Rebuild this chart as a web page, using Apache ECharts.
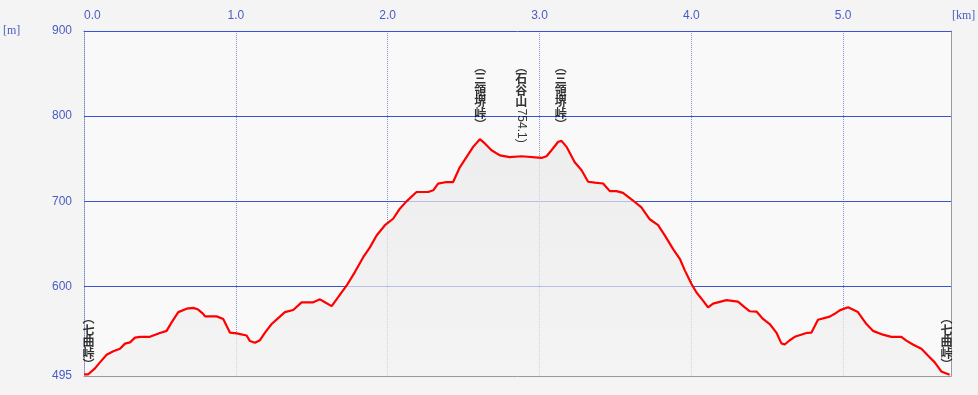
<!DOCTYPE html>
<html><head><meta charset="utf-8">
<script src="https://cdn.jsdelivr.net/npm/echarts@6/dist/echarts.min.js"></script>
<style>html,body{margin:0;padding:0;background:#f4f4f4}#c{width:978px;height:395px}</style>
</head><body><div id="c"></div>
<script>
// ---- data ----
const distanceKm = [0.000,0.028,0.072,0.105,0.149,0.193,0.237,0.270,0.303,0.336,0.369,0.434,0.500,0.544,0.577,0.621,0.676,0.720,0.752,0.785,0.797,0.874,0.917,0.939,0.961,1.005,1.071,1.093,1.126,1.159,1.192,1.236,1.279,1.323,1.378,1.433,1.510,1.554,1.587,1.631,1.674,1.729,1.784,1.839,1.883,1.927,1.982,2.036,2.080,2.124,2.190,2.267,2.300,2.332,2.388,2.431,2.475,2.519,2.563,2.607,2.640,2.684,2.739,2.804,2.881,3.013,3.046,3.079,3.123,3.145,3.178,3.232,3.277,3.320,3.364,3.419,3.463,3.507,3.550,3.616,3.671,3.726,3.781,3.825,3.880,3.924,3.957,4.001,4.034,4.077,4.110,4.143,4.187,4.231,4.307,4.352,4.385,4.429,4.472,4.516,4.560,4.593,4.615,4.648,4.681,4.758,4.791,4.834,4.911,4.944,4.977,5.032,5.097,5.153,5.196,5.262,5.317,5.383,5.416,5.459,5.515,5.558,5.603,5.646,5.701];
const elevationM = [497,497,504,511,520,524,527,533,534.5,540,541,541,545.5,548,558,570,574,575,573,568,565,565,562,554,546,545,542.5,536,534,537,546,556,563,570,572.5,581.5,581.5,585,581.5,577,587.5,601,617,634.5,646,660,672,679.6,691.4,700,711,711,713,720.8,722.7,722.7,740,752,764,773,768,760,754,752,753,751,753,760,770,771,764,746,736.5,723,722,721,712,712,710,701,693,679,672,660,644,632.6,619,603,593,583.5,575.6,580,582,584,582.4,575.6,571,570.6,562,556,546,533.3,532,537,541,545.5,546,561,564.7,568,572,575.6,570,556,548,543.5,541,541,536.5,532,527,519,511,500.4,496.5];
const xTickLabels = [0,1,2,3,4,5];
const yTickLabels = [495,600,700,800,900];
const gridLinesM = [600,700,800];
const annoKm = [0.03,2.61,2.88,3.14,5.68];
const annoTopM = [569,864,864,864,569];
const annoText = ['七曲峠','三領堺峠','石谷山754.1','三領堺峠','七曲峠'];
const unitX = '[km]', unitY = '[m]';
const X_MAX = 5.71, Y_MIN = 495, Y_MAX = 900;

// ---- build ----
const lineData = distanceKm.map((d,i)=>[d, elevationM[i]]);
const annoData = [];
const LH = 11.5;
annoText.forEach((t,i)=>{
  const m = t.match(/^([^\x00-\x7f]+)([\x00-\x7f]*)$/);
  const cjk = m[1], asc = m[2];
  let s = '︵\n' + cjk.split('').join('\n');
  if (!asc) s += '\n︶';
  annoData.push({value:[annoKm[i], annoTopM[i]], label:{formatter:s}});
  if (asc) {
    annoData.push({value:[annoKm[i], annoTopM[i]], label:{
      formatter: asc + ')', rotate:-90, align:'left', verticalAlign:'middle', fontWeight:'normal',
      distance: LH*(1+cjk.length)+1, fontFamily:'Liberation Sans', fontSize:12, lineHeight:14}});
  }
});

const chart = echarts.init(document.getElementById('c'), null, {renderer:'canvas'});
const blue = '#3c52d6';
chart.setOption({
  animation:false,
  backgroundColor:'#f4f4f4',
  grid:{left:84, top:31, right:27, bottom:19, show:true, backgroundColor:'#f9f9f9', borderWidth:0},
  xAxis:[{
    type:'value', position:'top', min:0, max:X_MAX, interval:1,
    axisLine:{onZero:false, lineStyle:{color:blue, width:1}},
    axisTick:{show:false},
    axisLabel:{color:'#4a5cc4', fontFamily:'Liberation Sans', fontSize:12, margin:9,
      customValues:xTickLabels, alignMinLabel:'left', formatter:v=>v.toFixed(1)},
    splitLine:{show:true, lineStyle:{type:'dotted', color:'#8391cc', width:1}}
  },{
    type:'value', position:'bottom', min:0, max:X_MAX,
    axisLine:{onZero:false, lineStyle:{color:'#9a9a9a', width:1}},
    axisTick:{show:false}, axisLabel:{show:false}, splitLine:{show:false}
  }],
  yAxis:[{
    type:'value', min:Y_MIN, max:Y_MAX,
    axisLine:{show:true, onZero:false, lineStyle:{color:'#7d8cc8', type:'dotted', width:1}},
    axisTick:{show:false},
    axisLabel:{color:'#4a5cc4', fontFamily:'Liberation Sans', fontSize:12, margin:12, customValues:yTickLabels},
    splitLine:{show:false}
  },{
    type:'value', position:'right', min:Y_MIN, max:Y_MAX,
    axisLine:{show:true, onZero:false, lineStyle:{color:'#9a9a9a', width:1}},
    axisTick:{show:false}, axisLabel:{show:false}, splitLine:{show:false}
  }],
  graphic:[
    {type:'text', left:3, top:25, style:{text:unitY, fill:'#4a5cc4', font:'12px "Liberation Serif"'}},
    {type:'text', left:952, top:10, style:{text:unitX, fill:'#4a5cc4', font:'12px "Liberation Serif"'}}
  ],
  series:[{
    type:'line', data:lineData, showSymbol:false, z:3,
    lineStyle:{color:'#ff0000', width:2.2},
    areaStyle:{origin:'start', color:new echarts.graphic.LinearGradient(0,0,0,1,[{offset:0,color:'#e9e9e9'},{offset:1,color:'#f1f1f1'}])},
    markLine:{silent:true, symbol:'none', label:{show:false}, z:2,
      lineStyle:{color:blue, width:1, type:'solid'},
      data:gridLinesM.map(v=>({yAxis:v}))}
  },{
    type:'scatter', data:annoData, symbolSize:0, z:5, silent:true,
    label:{show:true, position:'bottom', distance:0, color:'#000', fontWeight:'bold',
      fontFamily:'Noto Sans CJK JP', fontSize:12, lineHeight:LH}
  }]
});
</script></body></html>
